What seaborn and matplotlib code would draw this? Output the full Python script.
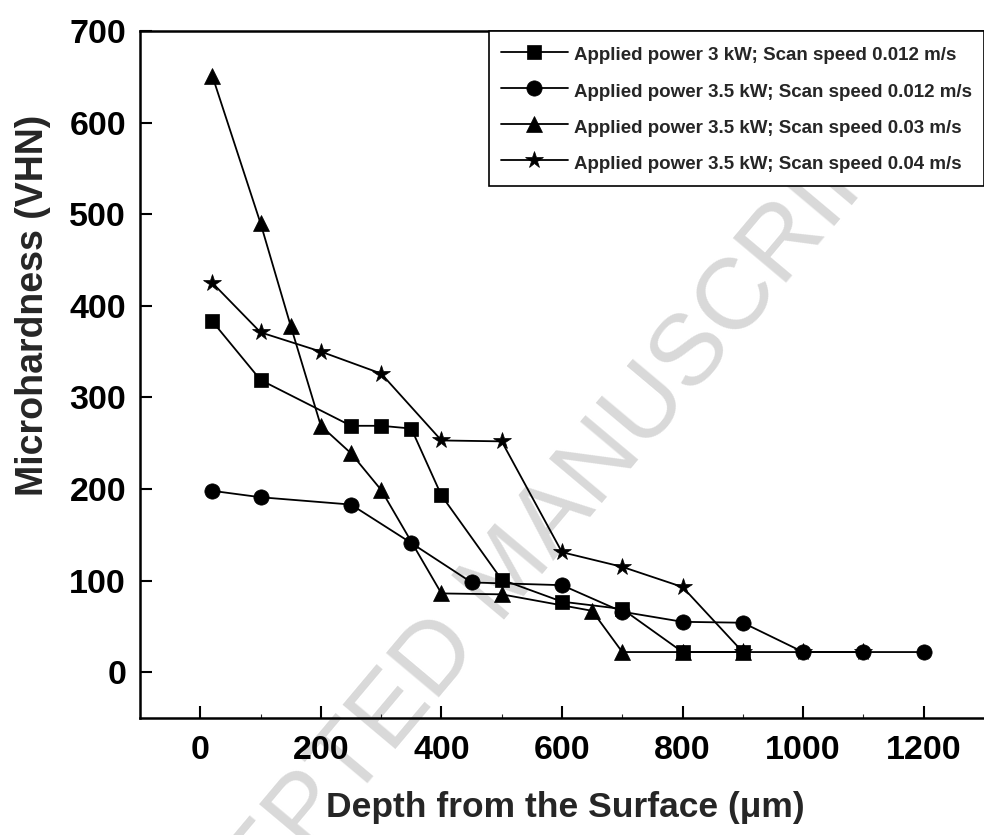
import matplotlib
matplotlib.use("Agg")
import matplotlib.pyplot as plt
from matplotlib.ticker import FixedLocator
import pandas as pd
import seaborn as sns

# Microhardness profiles below the laser-treated surface
depth_3kw_012 = [20, 100, 250, 300, 350, 400, 500, 600, 700, 800, 900]
hv_3kw_012 = [383, 319, 269, 269, 266, 193, 101, 77, 69, 22, 22]

depth_35kw_012 = [20, 100, 250, 350, 450, 600, 700, 800, 900, 1000, 1100, 1200]
hv_35kw_012 = [198, 191, 183, 141, 98, 95, 66, 55, 54, 22, 22, 22]

depth_35kw_03 = [20, 100, 150, 200, 250, 300, 400, 500, 650, 700, 800, 900]
hv_35kw_03 = [651, 490, 378, 269, 239, 199, 86, 85, 67, 22, 22, 22]

depth_35kw_04 = [20, 100, 200, 300, 400, 500, 600, 700, 800, 900, 1000, 1100]
hv_35kw_04 = [425, 371, 350, 326, 253, 252, 131, 115, 93, 22, 22, 22]

labels = [
    "Applied power 3 kW; Scan speed 0.012 m/s",
    "Applied power 3.5 kW; Scan speed 0.012 m/s",
    "Applied power 3.5 kW; Scan speed 0.03 m/s",
    "Applied power 3.5 kW; Scan speed 0.04 m/s",
]
x_ticks = [0, 200, 400, 600, 800, 1000, 1200]
y_ticks = [0, 100, 200, 300, 400, 500, 600, 700]

series = [
    (depth_3kw_012, hv_3kw_012, labels[0], "s", 10),
    (depth_35kw_012, hv_35kw_012, labels[1], "o", 11),
    (depth_35kw_03, hv_35kw_03, labels[2], "^", 12),
    (depth_35kw_04, hv_35kw_04, labels[3], "*", 13),
]

sns.set_theme(style="ticks")
plt.rcParams["font.family"] = ["Liberation Sans", "DejaVu Sans"]
plt.rcParams["font.weight"] = "bold"

fig = plt.figure(figsize=(9.84, 8.35), dpi=100)
ax = fig.add_axes([140 / 984, 1 - 718 / 835, 844 / 984, 687 / 835])

for xs, ys, lab, mk, ms in series:
    df = pd.DataFrame({"depth": xs, "hv": ys})
    sns.lineplot(data=df, x="depth", y="hv", ax=ax, color="black",
                 marker=mk, markersize=ms, markeredgecolor="black",
                 markeredgewidth=0.5, linewidth=1.3, estimator=None,
                 sort=False, label=lab, zorder=3)

ax.set_xlim(-100, 1300)
ax.set_ylim(-50, 700)
ax.xaxis.set_major_locator(FixedLocator(x_ticks))
ax.xaxis.set_minor_locator(FixedLocator(list(range(100, 1300, 200))))
ax.yaxis.set_major_locator(FixedLocator(y_ticks))

ax.tick_params(axis="both", which="major", direction="in", length=8.6,
               width=1.5, labelsize=24.5, colors="black")
ax.tick_params(axis="x", which="major", pad=12)
ax.tick_params(axis="y", which="major", pad=10)
ax.tick_params(axis="x", which="minor", direction="in", length=3, width=0.8)
for lab in ax.get_xticklabels() + ax.get_yticklabels():
    lab.set_fontweight("bold")

for side in ["left", "bottom", "top"]:
    ax.spines[side].set_linewidth(1.8)
    ax.spines[side].set_color("black")
ax.spines["right"].set_visible(False)

ax.set_xlabel("Depth from the Surface (μm)", fontsize=25.5, fontweight="bold")
ax.set_ylabel("Microhardness (VHN)", fontsize=27, fontweight="bold")
ax.xaxis.label.set_va("center")
ax.yaxis.label.set_va("center")
ax.xaxis.set_label_coords(0.5035, -0.131)
ax.yaxis.set_label_coords(-0.127, 0.600)

leg = ax.legend(loc="upper right", bbox_to_anchor=(1.0, 1.0), borderaxespad=0,
                frameon=True, fancybox=False, edgecolor="black", framealpha=1,
                prop={"weight": "bold", "size": 13.5}, handlelength=3.6,
                handleheight=1.44, handletextpad=0.3, borderpad=0.65,
                labelspacing=0.75)
leg.get_frame().set_linewidth(1.2)
leg.set_zorder(5)

# Journal watermark
ax.text(0.517, 0.312, "ACCEPTED MANUSCRIPT", transform=fig.transFigure,
        rotation=50, fontsize=73, fontweight="normal", color="#d9d9d9",
        ha="center", va="center", rotation_mode="anchor", zorder=0.5,
        clip_on=False)

fig.savefig("out.png", dpi=100)
